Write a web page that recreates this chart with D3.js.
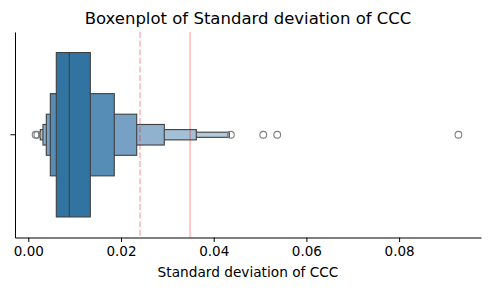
<!DOCTYPE html>
<html>
<head>
<meta charset="utf-8">
<script src="https://cdn.jsdelivr.net/npm/d3@7"></script>
<style>
  body { margin: 0; background: #fff; }
  text { font-family: "DejaVu Sans", sans-serif; fill: #000; }
</style>
</head>
<body>
<div id="chart"></div>
<script>
// data
const category = [''];
const median = 0.00885;
// letter-value boxes, widest first
const boxLow = [0.00604, 0.00475, 0.00388, 0.00317, 0.00259, 0.00231];
const boxHigh = [0.01338, 0.01855, 0.02339, 0.02934, 0.03625, 0.04337];
const outliers = [0.00158, 0.00195, 0.0437, 0.0507, 0.0537, 0.0928];
const refDashed = [0.0241];
const refSolid = [0.0349];
const xTicks = [0, 0.02, 0.04, 0.06, 0.08];
const boxColors = ['#3274a1', '#558db6', '#76a0c4', '#90b2cf', '#a4c0d7', '#b2cadd'];

// config
const width = 490, height = 290;
const margin = { top: 32, right: 9, bottom: 52.5, left: 15 };

const svg = d3.select('#chart')
  .append('svg')
  .attr('width', width)
  .attr('height', height);

const x = d3.scaleLinear()
  .domain([-0.00287, 0.09767])
  .range([margin.left, width - margin.right]);

const y = d3.scaleBand()
  .domain(category)
  .range([margin.top, height - margin.bottom]);

const cy = y(category[0]) + y.bandwidth() / 2;
const fullH = y.bandwidth() * 0.8;

// boxes: the outer (short) ones go first, the IQR box ends on top
const levels = boxLow.map((lo, i) => ({ lo, hi: boxHigh[i], i })).reverse();
const g = svg.append('g').attr('class', 'boxen');
g.selectAll('rect')
  .data(levels)
  .enter()
  .append('rect')
  .attr('x', d => x(d.lo))
  .attr('width', d => x(d.hi) - x(d.lo))
  .attr('y', d => cy - fullH / Math.pow(2, d.i) / 2)
  .attr('height', d => fullH / Math.pow(2, d.i))
  .attr('fill', d => boxColors[d.i])
  .attr('stroke', '#3f3f3f')
  .attr('stroke-width', 1.1);

// median
g.append('line')
  .attr('x1', x(median))
  .attr('x2', x(median))
  .attr('y1', cy - fullH / 2)
  .attr('y2', cy + fullH / 2)
  .attr('stroke', '#3f3f3f')
  .attr('stroke-width', 1.1);

// outliers
g.selectAll('circle')
  .data(outliers)
  .enter()
  .append('circle')
  .attr('cx', d => x(d))
  .attr('cy', cy)
  .attr('r', 3.4)
  .attr('fill', 'none')
  .attr('stroke', '#7f7f7f')
  .attr('stroke-width', 1.1);

// reference lines
svg.selectAll('line.ref-dashed')
  .data(refDashed)
  .enter()
  .append('line')
  .attr('class', 'ref-dashed')
  .attr('x1', d => x(d)).attr('x2', d => x(d))
  .attr('y1', margin.top).attr('y2', height - margin.bottom)
  .attr('stroke', 'red')
  .attr('stroke-opacity', 0.27)
  .attr('stroke-width', 1.6)
  .attr('stroke-dasharray', '6,2.6');

svg.selectAll('line.ref-solid')
  .data(refSolid)
  .enter()
  .append('line')
  .attr('class', 'ref-solid')
  .attr('x1', d => x(d)).attr('x2', d => x(d))
  .attr('y1', margin.top).attr('y2', height - margin.bottom)
  .attr('stroke', 'red')
  .attr('stroke-opacity', 0.27)
  .attr('stroke-width', 1.6);

// axes
const xAxis = svg.append('g')
  .attr('transform', `translate(0,${height - margin.bottom})`)
  .call(d3.axisBottom(x).tickValues(xTicks).tickFormat(d3.format('.2f')).tickSize(4.5).tickSizeOuter(0).tickPadding(4));
xAxis.selectAll('text').attr('font-size', '13.5px').attr('font-family', 'DejaVu Sans, sans-serif');
xAxis.select('.domain').attr('stroke', '#000').attr('stroke-width', 1);

const yAxis = svg.append('g')
  .attr('transform', `translate(${margin.left},0)`)
  .call(d3.axisLeft(y).tickSize(4.5).tickSizeOuter(0));
yAxis.select('.domain').attr('stroke', '#000').attr('stroke-width', 1);

// labels
svg.append('text')
  .attr('x', (margin.left + width - margin.right) / 2)
  .attr('y', 24.3)
  .attr('text-anchor', 'middle')
  .attr('font-size', '16.5px')
  .text('Boxenplot of Standard deviation of CCC');

svg.append('text')
  .attr('x', (margin.left + width - margin.right) / 2)
  .attr('y', 277.3)
  .attr('text-anchor', 'middle')
  .attr('font-size', '13.7px')
  .text('Standard deviation of CCC');
</script>
</body>
</html>
